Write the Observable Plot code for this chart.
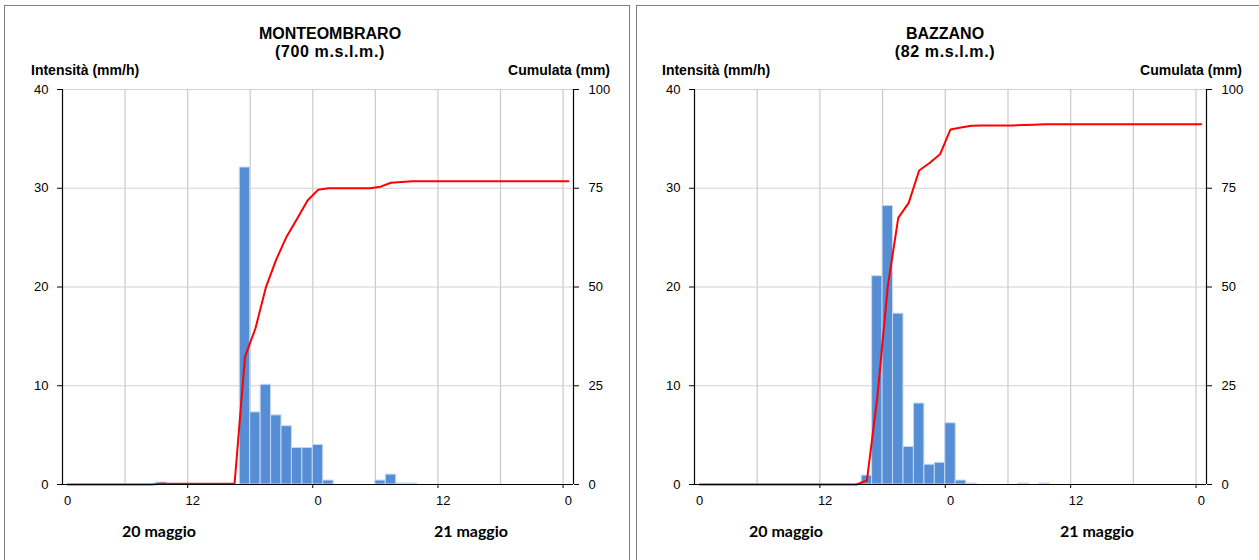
<!DOCTYPE html>
<html>
<head>
<meta charset="utf-8">
<script src="https://cdn.jsdelivr.net/npm/d3@7"></script>
<script src="https://cdn.jsdelivr.net/npm/@observablehq/plot@0.6"></script>
<style>
  html, body { margin: 0; padding: 0; background: #fff; }
  #page { position: relative; width: 1259px; height: 560px; overflow: hidden; background: #fff; }
  .box { position: absolute; border: 1.5px solid #7f7f7f; box-sizing: border-box; }
  .chart { position: absolute; top: 0; }
  .t { position: absolute; line-height: 1; white-space: nowrap; color: #000; font-family: "Liberation Sans", Arial, sans-serif; font-weight: bold; }
  .title { font-size: 16px; text-align: center; width: 300px; }
  .sub { font-size: 16px; text-align: center; width: 300px; letter-spacing: 0.6px; }
  .ax { font-size: 14px; }
  .day { font-family: Lato, "Open Sans", sans-serif; font-size: 16px; text-align: center; width: 160px; }
</style>
</head>
<body>
<div id="page">
  <div class="box" style="left:4px; top:5px; width:626px; height:620px;"></div>
  <div class="box" style="left:636px; top:5px; width:700px; height:620px;"></div>
  <div id="c1" class="chart" style="left:0px;"></div>
  <div id="c2" class="chart" style="left:634px;"></div>

  <div class="t title" style="left:180px; top:25.5px;">MONTEOMBRARO</div>
  <div class="t sub" style="left:180px; top:43.5px;">(700 m.s.l.m.)</div>
  <div class="t ax" style="left:31px; top:63px;">Intensità (mm/h)</div>
  <div class="t ax" style="right:649px; top:63px;">Cumulata (mm)</div>
  <div class="t day" style="left:79px; top:523px;">20 maggio</div>
  <div class="t day" style="left:391px; top:523px;">21 maggio</div>

  <div class="t title" style="left:795px; top:25.5px;">BAZZANO</div>
  <div class="t sub" style="left:795px; top:43.5px;">(82 m.s.l.m.)</div>
  <div class="t ax" style="left:662px; top:63px;">Intensità (mm/h)</div>
  <div class="t ax" style="right:17px; top:63px;">Cumulata (mm)</div>
  <div class="t day" style="left:706px; top:523px;">20 maggio</div>
  <div class="t day" style="left:1017px; top:523px;">21 maggio</div>
</div>
<script>
// hourly categories: 0 = 00:00 of 20 May ... 48 = 00:00 of 22 May
const hours = [0,1,2,3,4,5,6,7,8,9,10,11,12,13,14,15,16,17,18,19,20,21,22,23,24,
               25,26,27,28,29,30,31,32,33,34,35,36,37,38,39,40,41,42,43,44,45,46,47,48];
const tickHours = [0, 12, 24, 36, 48];
const tickLabels = ["0", "12", "0", "12", "0"];
const gridHours = [6, 12, 18, 24, 30, 36, 42, 48];
const intensityTicks = [0, 10, 20, 30, 40];
const cumulTicks = [0, 25, 50, 75, 100];

// MONTEOMBRARO – hourly intensity (mm/h)
const monteIntensity = [0,0,0,0,0,0,0,0,0,0.2,0,0,0,0,0,0,0,32.1,7.3,10.1,7.0,5.9,3.7,3.7,4.0,
                        0.4,0,0,0,0,0.4,1.0,0.1,0.1,0,0,0,0,0,0,0,0,0,0,0,0,0,0,0];
// MONTEOMBRARO – cumulative rain (mm)
const monteCumul = [0,0,0,0,0,0,0,0,0,0.2,0.2,0.2,0.2,0.2,0.2,0.2,0.2,32.3,39.5,49.9,57.0,62.8,67.3,71.9,74.6,
                    75.0,75.0,75.0,75.0,75.0,75.4,76.4,76.6,76.8,76.8,76.8,76.8,76.8,76.8,76.8,76.8,76.8,76.8,76.8,76.8,76.8,76.8,76.8,76.8];

// BAZZANO – hourly intensity (mm/h)
const bazzIntensity = [0,0,0,0,0,0,0,0,0,0,0,0,0,0,0,0,0.9,21.1,28.2,17.3,3.8,8.2,2.0,2.2,6.2,
                       0.4,0.1,0,0,0,0,0.1,0,0.1,0,0,0,0,0,0,0,0,0,0,0,0,0,0,0];
// BAZZANO – cumulative rain (mm)
const bazzCumul = [0,0,0,0,0,0,0,0,0,0,0,0,0,0,0,0,1.0,22.1,50.2,67.5,71.3,79.5,81.4,83.6,89.9,
                   90.4,90.8,90.9,90.9,90.9,90.9,91.0,91.1,91.2,91.2,91.2,91.2,91.2,91.2,91.2,91.2,91.2,91.2,91.2,91.2,91.2,91.2,91.2,91.2];

const ratio = 40 / 100; // cumulative mm -> intensity axis units

function panel(intensity, cumul, width, marginLeft, marginRight) {
  const bars = hours.map((h, i) => ({h, v: intensity[i]})).filter(d => d.v > 0);
  const line = hours.map((h, i) => ({h, c: cumul[i]}));
  const lab = new Map(tickHours.map((h, i) => [h + 0.5, tickLabels[i]]));
  return Plot.plot({
    width, height: 560,
    marginTop: 89, marginBottom: 76, marginLeft, marginRight,
    style: {background: "none", fontFamily: "'Liberation Sans', Arial, sans-serif", fontSize: "13px", color: "#000", overflow: "visible"},
    x: {domain: [0, 49], axis: null, label: null},
    y: {domain: [0, 40], axis: null, label: null},
    marks: [
      Plot.gridX({ticks: gridHours, stroke: "#c9c9c9", strokeOpacity: 1, strokeWidth: 1.2}),
      Plot.gridY({ticks: intensityTicks.slice(1), stroke: "#d0d0d0", strokeOpacity: 1, strokeWidth: 1.2}),
      Plot.rectY(bars, {x1: d => d.h, x2: d => d.h + 1, y: "v", fill: "#558ed5", stroke: "#c6d8ef", strokeWidth: 1}),
      Plot.line(line, {x: d => d.h + 0.5, y: d => d.c * ratio, stroke: "#ff0000", strokeWidth: 2}),
      Plot.ruleY([0], {stroke: "#000", strokeWidth: 1.2}),
      Plot.ruleX([0, 49], {stroke: "#000", strokeWidth: 1.2}),
      Plot.axisY({anchor: "left", label: null, ticks: intensityTicks, tickSize: 5, tickPadding: 9, fontSize: 13}),
      Plot.axisY({anchor: "right", label: null, ticks: cumulTicks.map(c => c * ratio), tickFormat: d => String(Math.round(d / ratio)), tickSize: 5, tickPadding: 10, fontSize: 13}),
      Plot.axisX({label: null, ticks: tickHours.map(h => h + 0.5), tickFormat: d => lab.get(d), tickSize: 0, tickPadding: 11, fontSize: 13}),
      Plot.axisX({label: null, ticks: [12, 24, 36, 48], tickSize: 4, tickFormat: () => ""})
    ]
  });
}

document.getElementById("c1").append(panel(monteIntensity, monteCumul, 634, 62, 61));
document.getElementById("c2").append(panel(bazzIntensity, bazzCumul, 625, 60, 53));
</script>
</body>
</html>
